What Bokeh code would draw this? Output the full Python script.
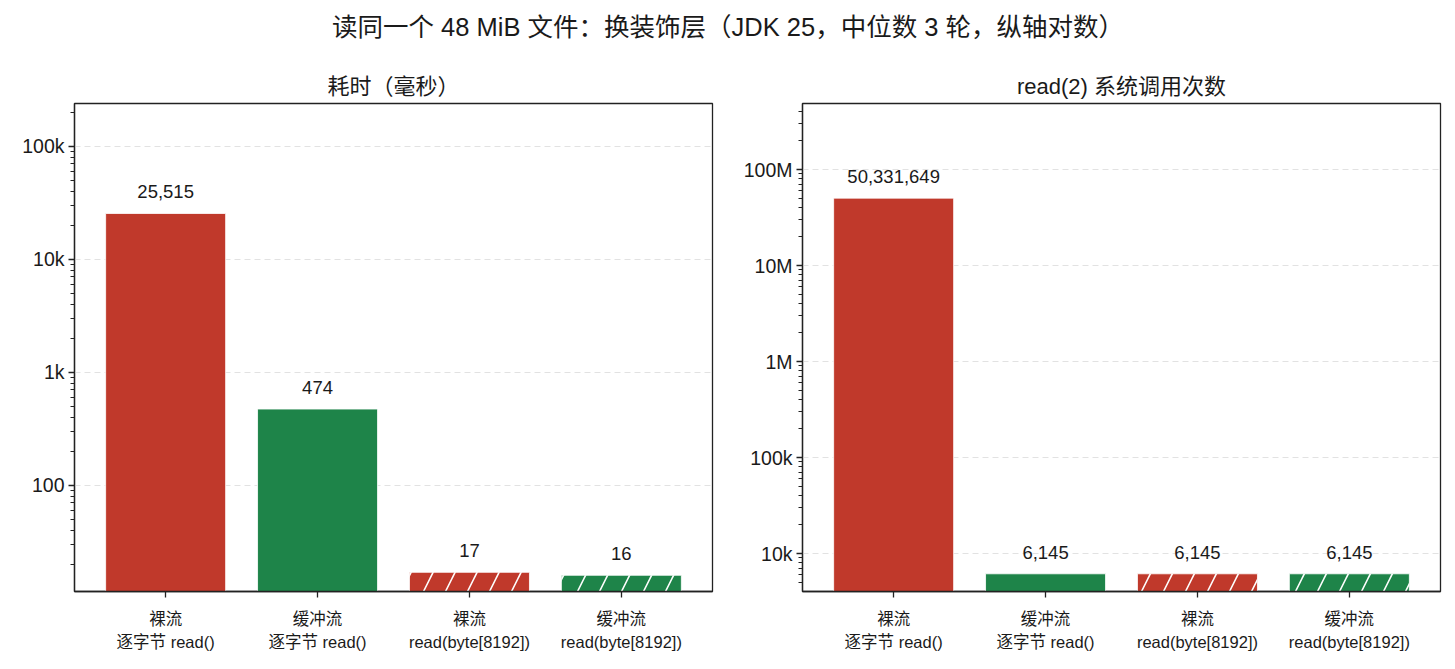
from bokeh.plotting import figure
from bokeh.models import ColumnDataSource, FixedTicker, Range1d
from bokeh.layouts import column, row
from bokeh.embed import file_html
from bokeh.resources import INLINE
from bokeh.core.properties import value

# data
categories = ["裸流\n逐字节 read()", "缓冲流\n逐字节 read()", "裸流\nread(byte[8192])", "缓冲流\nread(byte[8192])"]
time_ms = [25515, 474, 17, 16]
syscalls = [50331649, 6145, 6145, 6145]
bar_colors = ["#c0392b", "#1e8449", "#c0392b", "#1e8449"]
bar_hatch = [" ", " ", "/", "/"]

time_ticks = [10, 100, 1000, 10000, 100000]
time_tick_names = ["10", "100", "1k", "10k", "100k"]
call_ticks = [1000, 10000, 100000, 1000000, 10000000, 100000000]
call_tick_names = ["1k", "10k", "100k", "1M", "10M", "100M"]

FONT = "Liberation Sans, Noto Sans CJK SC"
INK = "#1a1a1a"

def minor_ticks(lo, hi):
    out = []
    for e in range(lo, hi):
        out += [m * 10 ** e for m in range(2, 10)]
    return out

def bar_panel(title, vals, y_lo, y_hi, majors, major_names, border_l, border_r, width):
    p = figure(width=width, height=619, title=title, y_axis_type="log",
               x_range=Range1d(-0.6, 3.6), y_range=Range1d(y_lo, y_hi),
               output_backend="svg", toolbar_location=None,
               min_border_left=border_l, min_border_right=border_r,
               min_border_top=53, min_border_bottom=78)
    p.title.align = "center"
    p.title.text_font = FONT
    p.title.text_font_size = "22px"
    p.title.text_font_style = "normal"
    p.title.text_color = INK
    p.title.standoff = 10

    src = ColumnDataSource(dict(
        x=list(range(len(categories))), top=vals, bottom=[1e-3] * len(vals),
        color=bar_colors, hatch=bar_hatch,
        label=["{:,}".format(v) for v in vals]))
    p.vbar(x="x", top="top", bottom="bottom", width=0.79, source=src,
           fill_color="color", line_color="white", line_width=0.8,
           hatch_pattern="hatch", hatch_color="white", hatch_scale=44, hatch_weight=1.6)
    p.text(x="x", y="top", text="label", source=src, y_offset=-15,
           text_align="center", text_baseline="bottom",
           text_font=value(FONT), text_font_size="18.5px", text_color=INK)

    p.xaxis.ticker = FixedTicker(ticks=list(range(len(categories))))
    p.xaxis.major_label_overrides = {i: c for i, c in enumerate(categories)}
    p.xaxis.major_label_text_font = FONT
    p.xaxis.major_label_text_font_size = "16.5px"
    p.xaxis.major_label_text_line_height = 1.3
    p.xaxis.major_label_text_color = INK
    p.xaxis.minor_tick_line_color = None
    p.xaxis.major_tick_out = 6
    p.xaxis.major_tick_in = 0
    p.xaxis.major_label_standoff = 12

    p.yaxis.ticker = FixedTicker(ticks=majors, minor_ticks=minor_ticks(0, 10))
    p.yaxis.major_label_overrides = dict(zip(majors, major_names))
    p.yaxis.major_label_text_font = FONT
    p.yaxis.major_label_text_font_size = "19.5px"
    p.yaxis.major_label_text_color = INK
    p.yaxis.major_tick_out = 6
    p.yaxis.major_tick_in = 0
    p.yaxis.minor_tick_out = 4
    p.yaxis.minor_tick_in = 0
    p.yaxis.minor_tick_line_color = "#222222"
    p.yaxis.minor_tick_line_width = 1
    p.yaxis.major_label_standoff = 4

    p.axis.axis_line_color = "#222222"
    p.axis.axis_line_width = 1.3
    p.axis.major_tick_line_color = "#222222"
    p.axis.major_tick_line_width = 1.3

    p.xgrid.grid_line_color = None
    p.ygrid.grid_line_color = "#e2e2e2"
    p.ygrid.grid_line_dash = "6 4"
    p.ygrid.grid_line_width = 1
    p.outline_line_color = "#222222"
    p.outline_line_width = 1.3
    return p

p1 = bar_panel("耗时（毫秒）", time_ms, 11.5, 240000,
               time_ticks, time_tick_names, 74, 28, 740)
p2 = bar_panel("read(2) 系统调用次数", syscalls, 4020, 4.87e8,
               call_ticks, call_tick_names, 61, 15, 715)

# header with the overall title
head = figure(width=1455, height=50, x_range=Range1d(0, 1), y_range=Range1d(0, 50),
              output_backend="svg", toolbar_location=None,
              min_border=0, outline_line_color=None)
head.axis.visible = False
head.grid.visible = False
head.text(x=[0.5], y=[24], text=["读同一个 48 MiB 文件：换装饰层（JDK 25，中位数 3 轮，纵轴对数）"],
          text_align="center", text_baseline="middle",
          text_font=value(FONT), text_font_size="25.5px", text_color=INK)

layout = column(head, row(p1, p2))
open("out.html", "w").write(file_html(layout, INLINE))
